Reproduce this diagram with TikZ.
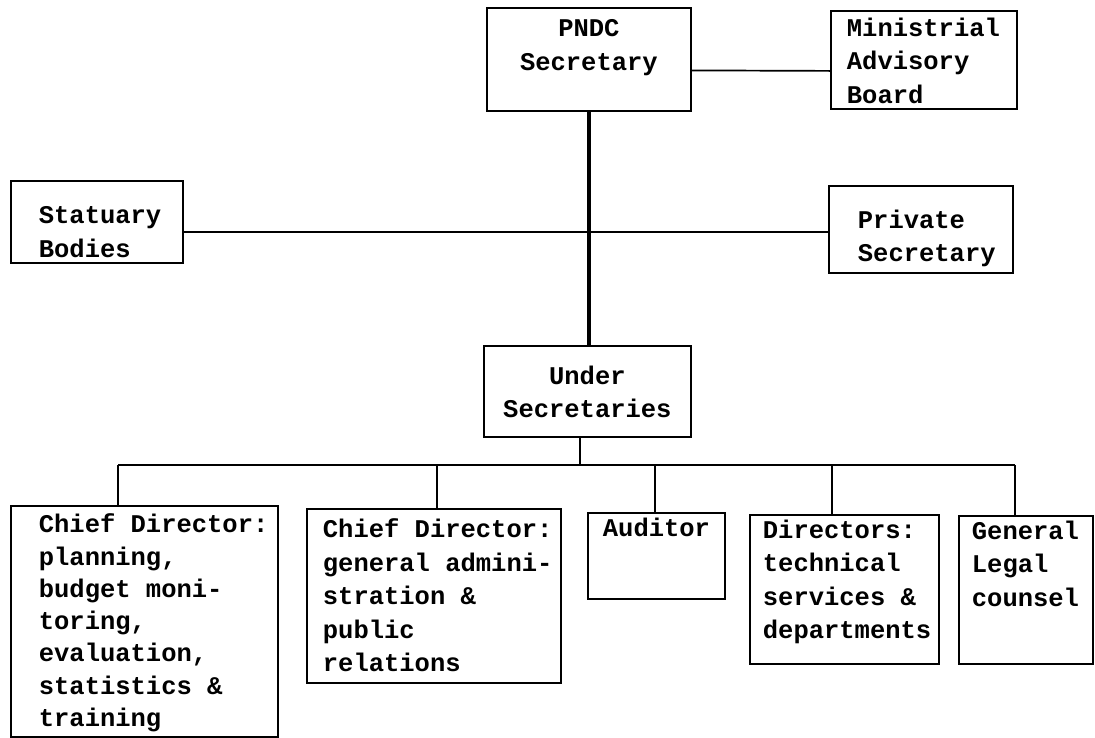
\documentclass[tikz,border=0pt]{standalone}
\usepackage{fontspec}
\setmonofont{Liberation Mono}
\usetikzlibrary{positioning}
% text cells: height, top gap, left indent, text
\newcommand{\cell}[4]{\parbox[c][#1][t]{\linewidth}{\raggedright\frenchspacing\spaceskip=.6em\relax\leftskip=#3\relax\vspace*{#2}#4}}
\newcommand{\cellC}[3]{\parbox[c][#1][t]{\linewidth}{\centering\frenchspacing\spaceskip=.6em\relax\vspace*{#2}#3}}

\begin{document}
\begin{tikzpicture}[x=1pt,y=-1pt,
  unit/.style={draw,line width=1.8pt,anchor=north west,inner sep=0pt,font=\ttfamily\bfseries\fontsize{25.5}{33.5}\selectfont},
  link/.style={line width=1.7pt},
  spine/.style={line width=3.8pt}]
  \useasboundingbox (0,0) rectangle (1095,737);
  % top level
  \node[unit,text width=204pt] (pndc) at (486,7) {\cellC{103pt}{12pt}{PNDC\\Secretary}};
  \node[unit,text width=186pt] (mab) at (830,10) {\cell{98pt}{7pt}{16pt}{Ministrial\\Advisory\\Board}};
  \node[unit,text width=172pt] (stat) at (10,180) {\cell{82pt}{26pt}{28pt}{Statuary\\Bodies}};
  \node[unit,text width=184pt] (priv) at (828,185) {\cell{87pt}{24pt}{29pt}{Private\\Secretary}};
  \node[unit,text width=207pt] (under) at (483,345) {\cellC{91pt}{20pt}{Under\\Secretaries}};
  % directorates
  \node[unit,text width=267pt] (cd1) at (10,505) {\cell{231pt}{8pt}{28pt}{\fontsize{25.5}{32.3}\selectfont Chief Director:\\planning,\\budget moni-\\toring,\\evaluation,\\statistics \&\\training}};
  \node[unit,text width=254pt] (cd2) at (306,508) {\cell{174pt}{10pt}{16pt}{Chief Director:\\general admini-\\stration \&\\public\\relations}};
  \node[unit,text width=137pt] (aud) at (587,512) {\cell{86pt}{5pt}{15pt}{Auditor}};
  \node[unit,text width=189pt] (dir) at (749,514) {\cell{149pt}{5pt}{13pt}{Directors:\\technical\\services \&\\departments}};
  \node[unit,text width=134pt] (gl) at (958,515) {\cell{148pt}{5pt}{13pt}{General\\Legal\\counsel}};
  % connectors
  \draw[link] ([yshift=-11pt]pndc.east) -- ([yshift=-11pt]mab.west);
  \draw[spine] (pndc.south) -- (pndc.south |- under.north);
  \coordinate (cross) at (585,232);
  \draw[link] (stat.east |- cross) -- (priv.west |- cross);
  \coordinate (bus) at (580,465);
  \draw[line width=2.4pt] (under.south -| bus) -- (bus);
  \foreach \n/\x in {cd1/118,cd2/437,aud/655,dir/832,gl/1015}{
    \coordinate (t\n) at (\x,465);
    \draw[line width=2.2pt] (t\n) -- (t\n |- \n.north);
  }
  \draw[link] (tcd1) -- (tgl);
\end{tikzpicture}
\end{document}
